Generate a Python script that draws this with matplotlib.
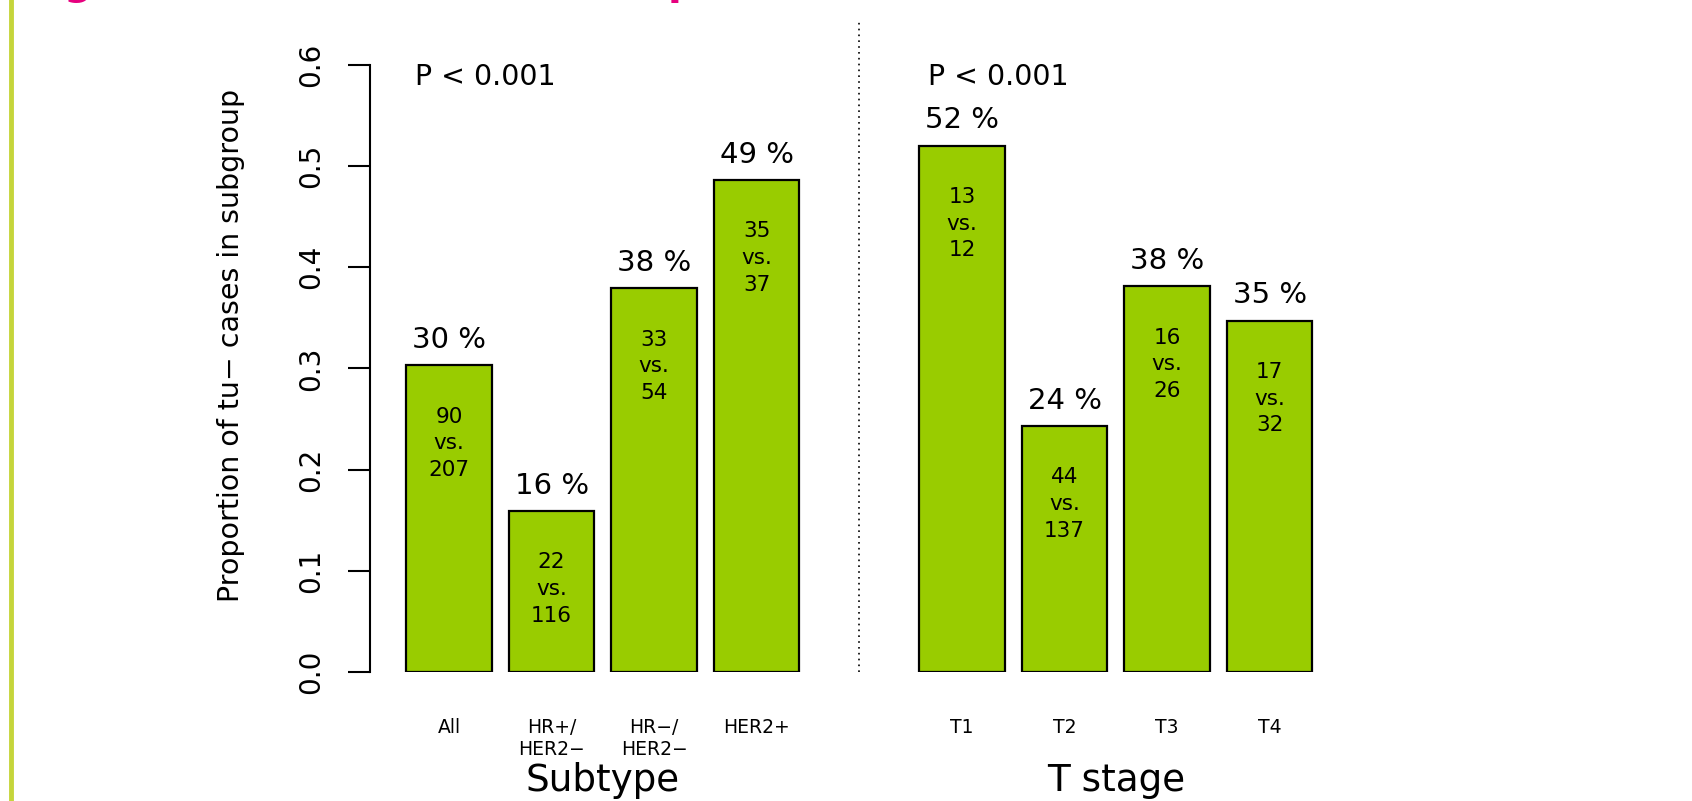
import matplotlib
matplotlib.use('Agg')
import matplotlib.pyplot as plt
from matplotlib.lines import Line2D

# ─── Data ───
subtypes = ['All', 'HR+/\nHER2\u2212', 'HR\u2212/\nHER2\u2212', 'HER2+']
subtype_prop = [0.303, 0.159, 0.379, 0.486]
subtype_neg = [90, 22, 33, 35]
subtype_pos = [207, 116, 54, 37]

stages = ['T1', 'T2', 'T3', 'T4']
stage_prop = [0.520, 0.243, 0.381, 0.347]
stage_neg = [13, 44, 16, 17]
stage_pos = [12, 137, 26, 32]

p_labels = ['P < 0.001', 'P < 0.001']
group_titles = ['Subtype', 'T stage']

BAR_COL = '#99cc00'
W, H = 1692, 801

fig = plt.figure(figsize=(W / 100, H / 100), dpi=100)
fig.patch.set_facecolor('white')

# axes placed in pixel terms: y=0 at 672px from top, left axis at x=370px
ax_left, ax_bottom = 370 / W, 1 - 672 / H
ax = fig.add_axes([ax_left, ax_bottom, 1 - ax_left, (672 - 19) / H])
ax.set_xlim(-0.924, 14.54)
ax.set_ylim(0, 0.6 * (672 - 19) / (672 - 64.7))

# bar centres, R barplot style (width 1, space 0.2, two-bar gap between groups)
x1 = [i * 1.2 for i in range(4)]
x2 = [6.0 + i * 1.2 for i in range(4)]

for xs, props, neg, pos in [(x1, subtype_prop, subtype_neg, subtype_pos),
                            (x2, stage_prop, stage_neg, stage_pos)]:
    ax.bar(xs, props, width=1.0, color=BAR_COL, edgecolor='black', linewidth=1.6)
    for x, v, a, b in zip(xs, props, neg, pos):
        ax.text(x, v + 0.025, f"{round(v * 100):.0f} %", ha='center', va='center',
                fontsize=21)
        ax.text(x, v - 0.077, f"{a}\nvs.\n{b}", ha='center', va='center',
                fontsize=15.5, linespacing=1.42)

# separator between the two panels
ax.plot([4.8, 4.8], [0, ax.get_ylim()[1]], color='black', linestyle=(0, (1, 2.5)),
        linewidth=1.2, clip_on=False)

# P values
ax.text(-0.4, 0.588, p_labels[0], ha='left', va='center', fontsize=20.5)
ax.text(5.6, 0.588, p_labels[1], ha='left', va='center', fontsize=20.5)

# axes styling
for s in ['top', 'right', 'bottom']:
    ax.spines[s].set_visible(False)
ax.spines['left'].set_bounds(0, 0.6)
ax.spines['left'].set_linewidth(1.5)
ax.set_yticks([0.0, 0.1, 0.2, 0.3, 0.4, 0.5, 0.6])
ax.set_yticklabels([f"{t:.1f}" for t in [0.0, 0.1, 0.2, 0.3, 0.4, 0.5, 0.6]],
                   rotation=90, va='center', fontsize=20)
ax.tick_params(axis='y', length=16, width=1.5, pad=16)

ax.set_xticks(x1 + x2)
ax.set_xticklabels(subtypes + stages, fontsize=13.5, linespacing=1.2, va='top')
ax.tick_params(axis='x', length=0, pad=33)

ax.set_ylabel('Proportion of tu\u2212 cases in subgroup', fontsize=20.5, labelpad=38)

# group titles under the tick labels
for xc, t in zip([sum(x1) / 4, sum(x2) / 4], group_titles):
    ax.text(xc, -0.107, t, ha='center', va='center', fontsize=26.8)

# slide decoration: green rule on the left, clipped pink heading above
fig.add_artist(Line2D([10.5 / W, 10.5 / W], [0, 1], color='#c5d53b', linewidth=3.5))
fig.text(63 / W, 1.0 + 6 / H, 'g', color='#e6007e', fontsize=29, fontweight='bold',
         ha='left', va='baseline')
fig.text(668 / W, 1.0 + 6 / H, 'p', color='#e6007e', fontsize=29, fontweight='bold',
         ha='left', va='baseline')

fig.savefig('out.png', dpi=100, facecolor='white')
